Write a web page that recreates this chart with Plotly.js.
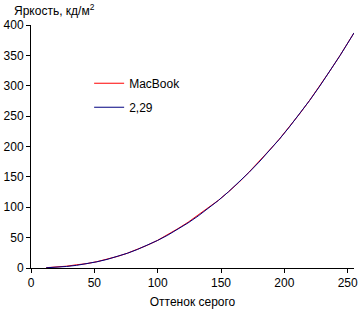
<!DOCTYPE html>
<html><head><meta charset="utf-8">
<script src="https://cdn.plot.ly/plotly-3.0.1.min.js"></script>
<style>html,body{margin:0;padding:0;background:#fff}#c{width:358px;height:311px}</style>
</head><body><div id="c"></div>
<script>
const gray = [12,20,28,36,44,52,60,68,76,84,92,100,108,116,124,132,140,148,156,164,172,180,188,196,204,212,220,228,236,244,252,255];
const macbook = [0.5,1.3,3.0,5.3,7.2,10.4,14.2,18.9,24.3,30.6,37.6,45.6,54.6,64.8,75.3,86.9,98.4,111.5,125.6,140.6,157.6,175.0,193.4,212.0,232.5,253.6,276.0,299.8,324.5,350.0,376.8,387];
const gamma229 = [0.35,1.1,2.5,4.4,6.9,10.2,14.1,18.8,24.2,30.5,37.5,45.4,54.1,63.7,74.2,85.7,98.0,111.3,125.6,140.8,157.1,174.3,192.6,211.8,232.2,253.5,275.9,299.5,324.1,349.8,376.7,387];
const xTicks = [0,50,100,150,200,250];
const yTicks = [0,50,100,150,200,250,300,350,400];
const names = ['MacBook','2,29'];
const font = {family:'Liberation Sans, Arial, sans-serif', size:12, color:'#000'};
const traces = [
 {x:gray, y:macbook, name:names[0], mode:'lines', line:{color:'#ff0000', width:1}, legendgroup:'a'},
 {x:gray, y:gamma229, name:names[1], mode:'lines', line:{color:'#000080', width:1}, legendgroup:'b'}
];
const axisCommon = {showgrid:false, zeroline:false, showline:true, linecolor:'#000', linewidth:1, ticks:'outside', ticklen:4, tickcolor:'#000', tickfont:font, ticklabeloverflow:'allow'};
const layout = {
 width:358, height:311, margin:{l:31, r:4, t:25, b:43},
 paper_bgcolor:'#fff', plot_bgcolor:'#fff', font:font,
 xaxis:Object.assign({range:[0,255], tickvals:xTicks, title:{text:'Оттенок серого', font:font, standoff:8}}, axisCommon),
 yaxis:Object.assign({range:[0,400], tickvals:yTicks}, axisCommon),
 legend:{x:0.18, y:0.82, xanchor:'left', yanchor:'top', bgcolor:'rgba(0,0,0,0)', font:font, traceorder:'grouped', tracegroupgap:5, itemwidth:30},
 annotations:[{text:'Яркость, кд/м<sup>2</sup>', xref:'paper', yref:'paper', x:-0.06, y:1.02, xanchor:'left', yanchor:'bottom', showarrow:false, font:font}]
};
Plotly.newPlot('c', traces, layout, {staticPlot:true});
</script></body></html>
